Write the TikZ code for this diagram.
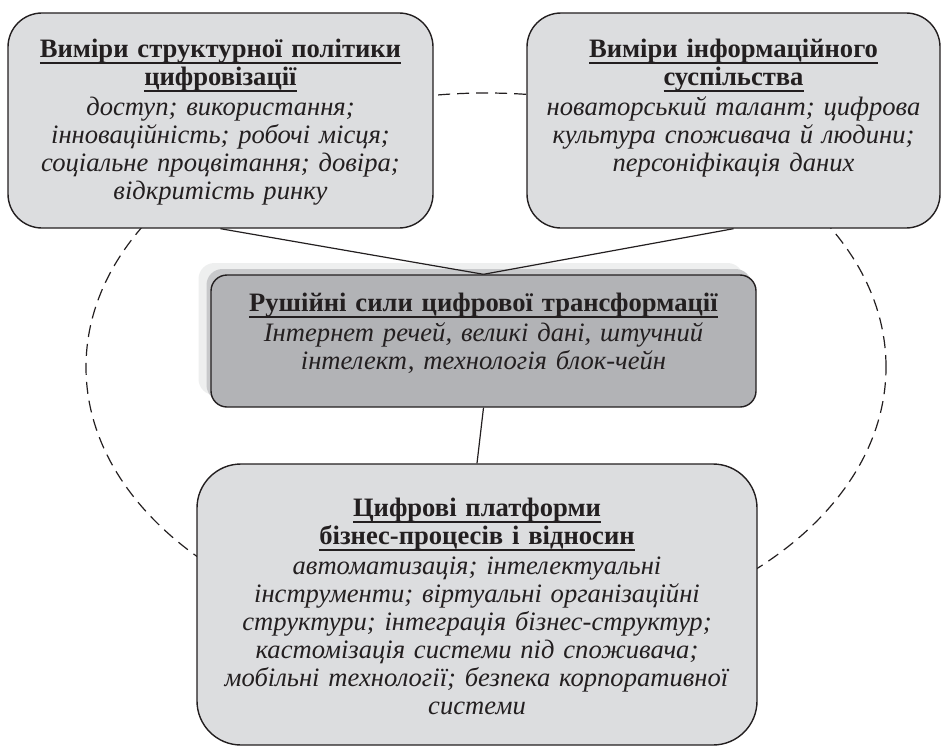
\documentclass[tikz,border=0pt]{standalone}
\usepackage{fontspec}
\setmainfont{Liberation Serif}

\definecolor{inkgray}{HTML}{231F20}
\definecolor{boxgray}{HTML}{DCDDDF}
\definecolor{drivegray}{HTML}{B2B3B6}
\definecolor{shadowdark}{HTML}{C8C9CB}
\definecolor{shadowlight}{HTML}{EEEFEF}

\tikzset{
  dimbox/.style={draw=inkgray, line width=0.7pt, fill=boxgray, inner sep=0pt, rounded corners=17pt},
  drivebox/.style={dimbox, fill=drivegray, rounded corners=8pt},
  shadowbox/.style={inner sep=0pt, rounded corners=8pt, minimum width=272.5pt, minimum height=66pt},
  dimtext/.style={inner sep=0pt, align=center, text=inkgray, font=\fontsize{13.3pt}{14pt}\selectfont},
  link/.style={draw=inkgray, line width=0.6pt},
  orbit/.style={draw=inkgray, line width=0.6pt, dash pattern=on 6pt off 3.5pt}
}

\newsavebox{\headbox}
\newcommand{\headline}[1]{\leavevmode\sbox{\headbox}{\textbf{#1}}\rlap{\rule[-3.4pt]{\wd\headbox}{0.9pt}}\usebox{\headbox}}

\begin{document}
\begin{tikzpicture}[x=0.5pt,y=-0.5pt]
\useasboundingbox (0,0) rectangle (941,749);

% dashed contour behind the boxes
\draw[orbit] (486,367) ellipse [x radius=200pt, y radius=137pt];

% top left: structural policy
\node[dimbox, minimum width=212.5pt, minimum height=107.5pt] (policy) at (220.5,120.5) {};
\node[dimtext, text width=205pt, anchor=north] (policytext) at ([yshift=-13pt]policy.north) {%
\headline{Виміри структурної політики}\\
\headline{цифровізації}\\[1pt]
\textit{доступ; використання;}\\
\textit{інноваційність; робочі місця;}\\
\textit{соціальне процвітання; довіра;}\\
\textit{відкритість ринку}};

% top right: information society
\node[dimbox, minimum width=206.5pt, minimum height=107.5pt] (society) at (733.5,120.5) {};
\node[dimtext, text width=205pt, anchor=north] (societytext) at ([yshift=-13pt]society.north) {%
\headline{Виміри інформаційного}\\
\headline{суспільства}\\[1pt]
\textit{новаторський талант; цифрова}\\
\textit{культура споживача й людини;}\\
\textit{персоніфікація даних}};

% centre: driving forces with shadow
\node[shadowbox, fill=shadowlight] (driveshadowA) at (471,329) {};
\node[shadowbox, fill=shadowdark] (driveshadowB) at (479,335) {};
\node[drivebox, minimum width=272.5pt, minimum height=66pt] (drive) at (483.5,341) {};
\node[dimtext, text width=265pt, anchor=north] (drivetext) at ([yshift=-9pt]drive.north) {%
\headline{Рушійні сили цифрової трансформації}\\[1pt]
\textit{Інтернет речей, великі дані, штучний}\\
\textit{інтелект, технологія блок-чейн}};

% bottom: digital platforms
\node[dimbox, rounded corners=22pt, minimum width=280pt, minimum height=140.5pt] (platform) at (477,604.5) {};
\node[dimtext, text width=270pt, anchor=north] (platformtext) at ([yshift=-17pt]platform.north) {%
\headline{Цифрові платформи}\\
\headline{бізнес-процесів і відносин}\\[1pt]
\textit{автоматизація; інтелектуальні}\\
\textit{інструменти; віртуальні організаційні}\\
\textit{структури; інтеграція бізнес-структур;}\\
\textit{кастомізація системи під споживача;}\\
\textit{мобільні технології; безпека корпоративної}\\
\textit{системи}};

% connectors
\draw[link] (policy.south) -- (drive.north);
\draw[link] (society.south) -- (drive.north);
\draw[link] (drive.south) -- (platform.north);
\end{tikzpicture}
\end{document}
